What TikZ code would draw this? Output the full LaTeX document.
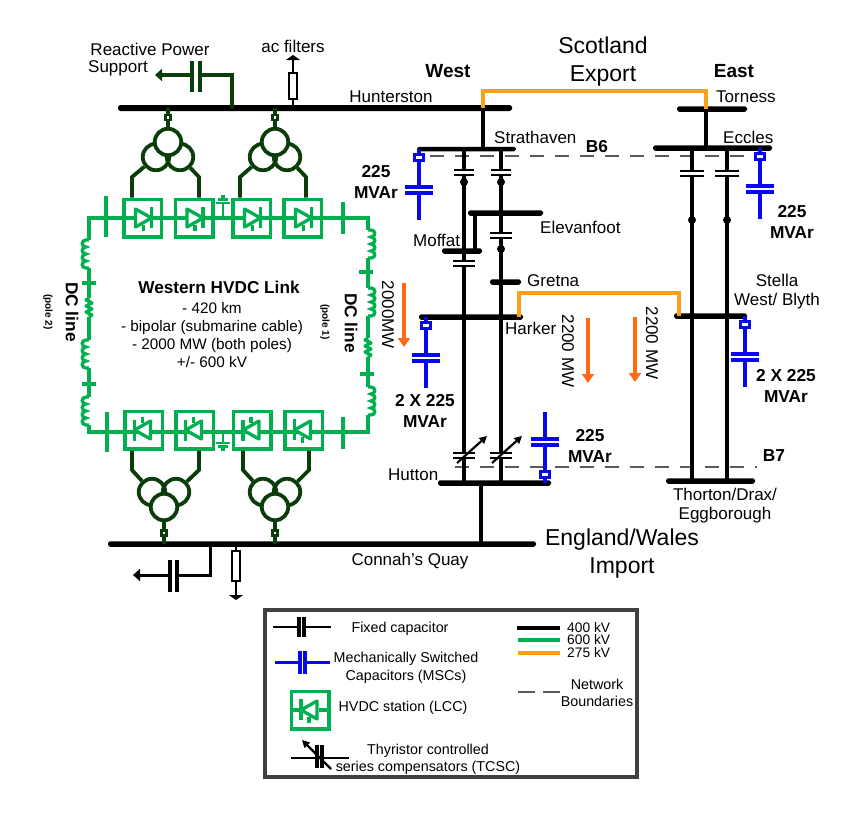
\documentclass[tikz,border=0pt]{standalone}
\usepackage{fontspec}
\setmainfont{Liberation Sans}
\usetikzlibrary{calc, positioning}
\usetikzlibrary{arrows.meta}
\definecolor{linegreen}{HTML}{00B050}
\definecolor{darkgreen}{HTML}{0B3D0B}
\definecolor{lineorange}{HTML}{F9A11B}
\definecolor{flowarrow}{HTML}{FF6A13}
\definecolor{mscblue}{HTML}{0808F0}
\definecolor{boundary}{HTML}{5A5A5A}
\tikzset{
    bus/.style = {
        fill=black, rectangle, rounded corners=1.8pt, inner sep=0pt, minimum height=5.5pt
    },
    ac/.style = {draw=black, line width=3.4pt},
    dc/.style = {draw=linegreen, line width=3.3pt},
    tie/.style = {draw=lineorange, line width=3.4pt},
    xfmr/.style = {draw=darkgreen, line width=3.8pt},
    msc/.style = {draw=mscblue, line width=3.8pt},
    flow/.style = {draw=flowarrow, line width=3.5pt, -{Triangle[width=12pt,length=9pt]}},
    netline/.style = {draw=boundary, line width=2pt, dash pattern=on 14pt off 11pt},
    lbl/.style = {font=\fontsize{17}{19}\selectfont, align=center, inner sep=0pt},
    big/.style = {font=\fontsize{23}{28}\selectfont, align=center, inner sep=0pt},
    val/.style = {font=\fontsize{17.3}{21}\selectfont\bfseries, align=center, inner sep=0pt},
    head/.style = {font=\fontsize{19}{21}\selectfont\bfseries, align=center, inner sep=0pt},
    info/.style = {font=\fontsize{15.3}{18.2}\selectfont, align=center, inner sep=0pt},
    key/.style = {font=\fontsize{14.3}{17.4}\selectfont, align=center, inner sep=0pt},
    stationbox/.style = {
        draw=linegreen, rectangle, line width=3.5pt, minimum size=37.5pt, inner sep=0pt
    },
    pics/Station/.style = {
        code = {
            \node [stationbox] (-edge) {};
            \draw [dc, fill=white, line join=round] (-7,-9) -- (9,0) -- (-7,9) -- cycle;
            \draw [dc] (9,-11) -- (9,10);
            \draw [dc] (1,7) -- (1,13);
    }},
    pics/Transformer/.style = {
        code = {
            \node [xfmr, circle, minimum size=26.5pt, inner sep=0pt] (-b) at (-12,15) {};
            \node [xfmr, circle, minimum size=26.5pt, inner sep=0pt] (-c) at (12,15) {};
            \node [xfmr, circle, fill=white, minimum size=26.5pt, inner sep=0pt] (-a) at (0,0) {};
    }},
    pics/LineCap/.style = {
        code = {
            \fill [white] (-#1,0) rectangle (#1,5);
            \draw [ac, line width=2.4pt] (-#1,0) -- (#1,0) (-#1,5) -- (#1,5);
    }},
    pics/Msc/.style = {
        code = {
            \draw [msc] (0,0) -- (0,38) (0,44) -- (0,71);
            \draw [msc] (-14,38) -- (14,38) (-14,44) -- (14,44);
            \node [msc, fill=white, rectangle, line width=3pt, minimum width=8.5pt, minimum height=6pt, inner sep=0pt] at (0,8.5) {};
    }},
    pics/Coil/.style = {
        code = {
            \draw [dc] (0,0) -- (-3,0)
                \foreach \k in {0,1,2,3} { .. controls (-8,{\k*7}) and (-8,{\k*7+7}) .. (-3,{\k*7+7}) }
                -- (0,28);
    }},
    pics/Zigzag/.style = {
        code = {
            \draw [dc, line join=round] (0,0) -- (-3,2) -- (3,5) -- (-3,8) -- (3,11) -- (-3,14) -- (3,17) -- (0,19);
    }},
    pics/TcscArrow/.style = {
        code = {
            \draw [ac, line width=2.2pt, -{Triangle[width=7.5pt,length=7.5pt]}] (-11,12) -- (19,-15);
    }}
}

\begin{document}
\begin{tikzpicture}[x=1pt, y=-1pt]
    \useasboundingbox (0,0) rectangle (850,812);
    % Place the buses
    \node [bus, minimum width=394pt, minimum height=6pt] (hunterston) at (315,108) {};
    \node [bus, minimum width=99pt, minimum height=4.5pt] (strathaven) at (466.5,149) {};
    \node [bus, minimum width=70pt] (torness) at (712,109) {};
    \node [bus, minimum width=119pt] (eccles) at (712.5,148) {};
    \node [bus, minimum width=75pt] (elevanfoot) at (505.5,213) {};
    \node [bus, minimum width=40pt] (moffat) at (462,251) {};
    \node [bus, minimum width=31pt] (gretna) at (505.5,282) {};
    \node [bus, minimum width=104pt] (harker) at (471,317) {};
    \node [bus, minimum width=73pt] (stella) at (710.5,316) {};
    \node [bus, minimum width=113pt] (hutton) at (494.5,483) {};
    \node [bus, minimum width=89pt] (thornton) at (710.5,481) {};
    \node [bus, minimum width=428pt] (connah) at (322,544) {};
    \coordinate (colA) at (464,0);
    \coordinate (colB) at (501,0);
    \coordinate (colC) at (692,0);
    \coordinate (colD) at (727,0);
    \coordinate (tieW) at (483,91);
    \coordinate (tieE) at (706,91);
    \coordinate (linkW) at (519,293);
    \coordinate (linkE) at (679,293);
    % Network boundaries
    \draw [netline] (430,156) -- (747,156);
    \draw [netline] (455,467) -- (757,467);
    % 400 kV and 275 kV lines
    \draw [ac, line width=4pt] (hunterston -| tieW) -- (strathaven -| tieW);
    \draw [ac, line width=4pt] (torness -| tieE) -- (eccles -| tieE);
    \draw [ac] (strathaven -| colA) -- (hutton -| colA);
    \draw [ac] (strathaven -| colB) -- (hutton -| colB);
    \draw [ac] (eccles -| colC) -- (thornton -| colC);
    \draw [ac] (eccles -| colD) -- (thornton -| colD);
    \draw [ac] (elevanfoot -| 475,0) -- (moffat -| 475,0);
    \draw [ac, line width=4pt] (hutton -| 481,0) -- (connah -| 481,0);
    \draw [tie] (hunterston -| tieW) -- (tieW) -- (tieE) -- (torness -| tieE);
    \draw [tie] (harker -| linkW) -- (linkW) -- (linkE) -- (stella -| linkE);
    % Series capacitors and dots
    \foreach \px/\py/\hw in {464/170/10, 501/170/10, 501/233/11, 464/261/11, 692/171/12, 727/171/12, 464/453/11, 501/453/11}
        \draw pic at (\px,\py) {LineCap=\hw};
    \foreach \px/\py in {464/182, 501/182, 501/249, 692/220, 727/220}
        \fill (\px,\py) circle (4);
    \draw pic at (468,451) {TcscArrow};
    \draw pic at (503,451) {TcscArrow};
    % Switched capacitors
    \draw pic at (419,149) {Msc};
    \draw pic at (760,148) {Msc};
    \draw pic at (426,317) {Msc};
    \draw pic at (745,316) {Msc};
    \draw pic [yscale=-1] at (545,483) {Msc};
    % HVDC ring
    \foreach \ya/\yb in {218/240, 268/298, 317/340, 368/397, 425/432}
        \draw [dc] (89,\ya) -- (89,\yb);
    \foreach \ya/\yb in {218/230, 258/288, 316/338, 357/387, 415/432}
        \draw [dc] (368,\ya) -- (368,\yb);
    \draw [dc] (87.4,218) -- (369.6,218);
    \draw [dc] (87.4,432) -- (369.6,432);
    \foreach \py in {240, 340, 397}
        \draw pic at (89,\py) {Coil};
    \foreach \py in {230, 288, 387}
        \draw pic [xscale=-1] at (368,\py) {Coil};
    \draw pic at (89,298) {Zigzag};
    \draw pic at (368,338) {Zigzag};
    \foreach \px/\py in {89/283, 89/384, 366/272, 367/374}
        \draw [dc] (\px-7,\py) -- (\px+7,\py);
    \draw [dc] (106,196) -- (106,237);
    \draw [dc] (343,202) -- (343,234);
    \draw [dc] (107,412) -- (107,452);
    \draw [dc] (343,417) -- (343,449);
    % grounds
    \draw [dc, line width=2.2pt] (223,218) -- (223,203) (216,203) -- (230,203) (218,199.5) -- (228,199.5) (221,196.5) -- (225,196.5);
    \draw [dc, line width=2.2pt] (223,432) -- (223,443) (216,443) -- (230,443) (218,446.5) -- (228,446.5) (221,449.5) -- (225,449.5);
    % Stations
    \foreach \n/\px in {1/142.5, 2/194, 3/251.5, 4/302.5}
        \draw pic (st\n) at (\px,218) {Station};
    \foreach \n/\px in {1/143.5, 2/194.5, 3/252}
        \draw pic [xscale=-1, yscale=-1] (sb\n) at (\px,430) {Station};
    \draw pic [xscale=-1] (sb4) at (303.5,430) {Station};
    % Transformers
    \draw pic (tfa) at (168,142) {Transformer};
    \draw pic (tfb) at (275,142) {Transformer};
    \draw pic [yscale=-1] (tfc) at (164,507) {Transformer};
    \draw pic [yscale=-1] (tfd) at (275,507) {Transformer};
    \tikzset{tapbox/.style = {xfmr, fill=white, rectangle, minimum size=5pt, inner sep=0pt, line width=2.8pt}}
    \draw [xfmr] (tfa-a) -- node [tapbox] {} (hunterston -| tfa-a);
    \draw [xfmr] (tfb-a) -- node [tapbox] {} (hunterston -| tfb-a);
    \draw [xfmr] (tfc-a) -- node [tapbox] {} (connah -| tfc-a);
    \draw [xfmr] (tfd-a) -- node [tapbox] {} (connah -| tfd-a);
    \draw [xfmr] (tfa-b) -- (132,177) -- (132,177 |- st1-edge.north);
    \draw [xfmr] (tfa-c) -- (199,177) -- (199,177 |- st2-edge.north);
    \draw [xfmr] (tfb-b) -- (240,177) -- (240,177 |- st3-edge.north);
    \draw [xfmr] (tfb-c) -- (306,177) -- (306,177 |- st4-edge.north);
    \draw [xfmr] (tfc-b) -- (132,470) -- (132,470 |- sb1-edge.south);
    \draw [xfmr] (tfc-c) -- (199,470) -- (199,470 |- sb2-edge.south);
    \draw [xfmr] (tfd-b) -- (243,470) -- (243,470 |- sb3-edge.south);
    \draw [xfmr] (tfd-c) -- (309,470) -- (309,470 |- sb4-edge.south);
    % Reactive support and filters
    \begin{scope}[>={Triangle[width=12pt,length=7pt]}]
        \draw [xfmr] (hunterston -| 232,0) -- (232,75) -- (200,75) coordinate (capT);
        \draw [xfmr, ->] (192,75) coordinate (capU) -- (155,75);
        \draw [xfmr] (capT |- 0,61) -- (capT |- 0,92);
        \draw [xfmr] (capU |- 0,61) -- (capU |- 0,92);
        \node [draw=black, line width=2pt, fill=white, minimum width=8pt, minimum height=26pt, inner sep=0pt] (filterT) at (293,86) {};
        \draw [ac, line width=2.2pt] (hunterston -| filterT) -- (filterT);
        \draw [ac, line width=2.2pt, -{Triangle[width=14pt,length=5pt]}] (filterT) -- (293,55);
        \draw [ac, line width=3pt] (connah -| 210,0) -- (210,575) -- (177,575) coordinate (capV);
        \draw [ac, line width=3pt, ->] (170,575) coordinate (capW) -- (133,575);
        \draw [ac] (capV |- 0,560) -- (capV |- 0,592);
        \draw [ac] (capW |- 0,560) -- (capW |- 0,592);
        \node [draw=black, line width=2.4pt, fill=white, minimum width=8pt, minimum height=30pt, inner sep=0pt] (filterB) at (236,566) {};
        \draw [ac, line width=2.4pt] (connah -| filterB) -- (filterB);
        \draw [ac, line width=2.6pt, -{Triangle[width=14pt,length=5pt]}] (filterB) -- (236,600);
    \end{scope}
    % Power flows
    \draw [flow] (404,283) -- (404,347);
    \draw [flow] (588,318) -- (588,383);
    \draw [flow] (635,317) -- (635,382);
    % Labels
    \node [lbl] (reactive) at (150,49) {Reactive Power};
    \node [lbl, anchor=west] (support) at (88,68) {Support};
    \node [lbl] (acf) at (293,46) {ac filters};
    \node [head] (west) at (448,71) {West};
    \node [head] (east) at (734,71) {East};
    \node [big] (scot) at (603,62) {Scotland\\Export};
    \node [big] (eng) at (622,554) {England/Wales\\Import};
    \node [lbl] at (391,97) {Hunterston};
    \node [lbl, anchor=west] at (494,137) {Strathaven};
    \node [val] at (597,147) {B6};
    \node [val] at (774,456) {B7};
    \node [lbl, anchor=west] at (716,97) {Torness};
    \node [lbl, anchor=west] at (723,137) {Eccles};
    \node [val] at (376,182) {225\\MVAr};
    \node [val] at (792,222) {225\\MVAr};
    \node [lbl, anchor=west] at (540,227) {Elevanfoot};
    \node [lbl, anchor=west] at (413,240) {Moffat};
    \node [lbl, anchor=west] at (527,281) {Gretna};
    \node [lbl, anchor=west] at (505,328) {Harker};
    \node [lbl] at (777,292) {Stella\\West/ Blyth};
    \node [val] at (786,386) {2 X 225\\MVAr};
    \node [val] at (425,411) {2 X 225\\MVAr};
    \node [val] at (590,446) {225\\MVAr};
    \node [lbl, anchor=west] at (388,475) {Hutton};
    \node [lbl] at (725,506) {Thorton/Drax/\\Eggborough};
    \node [lbl] at (410,561) {Connah's Quay};
    \node [lbl, rotate=-90] at (388,315) {2000MW};
    \node [lbl, rotate=-90] at (568,351) {2200 MW};
    \node [lbl, rotate=-90] at (652,343) {2200 MW};
    \node [info, font=\fontsize{17.2}{19}\selectfont\bfseries] (link) at (219,287) {Western HVDC Link};
    \node [info] (linkdata) at (212,335) {- 420 km\\- bipolar (submarine cable)\\- 2000 MW (both poles)\\+/- 600 kV};
    \node [val, rotate=-90] at (72,312) {DC line};
    \node [val, rotate=-90] at (351,323) {DC line};
    \node [val, font=\fontsize{10}{11}\selectfont\bfseries, rotate=-90] at (48,312) {(pole 2)};
    \node [val, font=\fontsize{10}{11}\selectfont\bfseries, rotate=-90] at (325,322) {(pole 1)};
    % Legend
    \node [draw=black!75, line width=3.4pt, minimum width=372pt, minimum height=167pt, inner sep=0pt] (legend) at (451,693.5) {};
    \draw [ac, line width=2.4pt] (273,627) -- (299,627) (304,627) -- (331,627);
    \draw [ac] (299,617) -- (299,637) (304,617) -- (304,637);
    \node [key] at (400,629) {Fixed capacitor};
    \draw [msc, line width=3pt] (275,662) -- (300,662) (305,662) -- (330,662);
    \draw [msc] (300,651) -- (300,674) (305,651) -- (305,674);
    \node [key, font=\fontsize{14.3}{18}\selectfont] at (406,668) {Mechanically Switched\\Capacitors (MSCs)};
    \draw pic [xscale=-1] (keyst) at (310,710) {Station};
    \draw [dc] (keyst-edge.west) -- (303,710) (keyst-edge.east) -- (319,710);
    \node [key] at (403,708) {HVDC station (LCC)};
    \draw [ac, line width=2.4pt] (291,758) -- (317,758) (322,758) -- (349,758);
    \draw [ac] (317,745) -- (317,768) (322,745) -- (322,768);
    \draw [ac, line width=2.2pt, -{Triangle[width=7.5pt,length=7.5pt]}] (331,769) -- (302,740);
    \node [key] at (428,759) {Thyristor controlled\\series compensators (TCSC)};
    \draw [ac, line width=3.6pt] (517,628) -- (560,628);
    \draw [dc, line width=3.6pt] (518,640) -- (560,640);
    \draw [tie, line width=3.6pt] (518,653) -- (560,653);
    \node [key, font=\fontsize{13.8}{17}\selectfont, anchor=west] at (567,627.5) {400 kV};
    \node [key, font=\fontsize{13.8}{17}\selectfont, anchor=west] at (567,640) {600 kV};
    \node [key, font=\fontsize{13.8}{17}\selectfont, anchor=west] at (567,652.5) {275 kV};
    \draw [netline, dash pattern=on 17pt off 8pt] (518,692) -- (560,692);
    \node [key] at (597,693) {Network\\Boundaries};
\end{tikzpicture}
\end{document}
